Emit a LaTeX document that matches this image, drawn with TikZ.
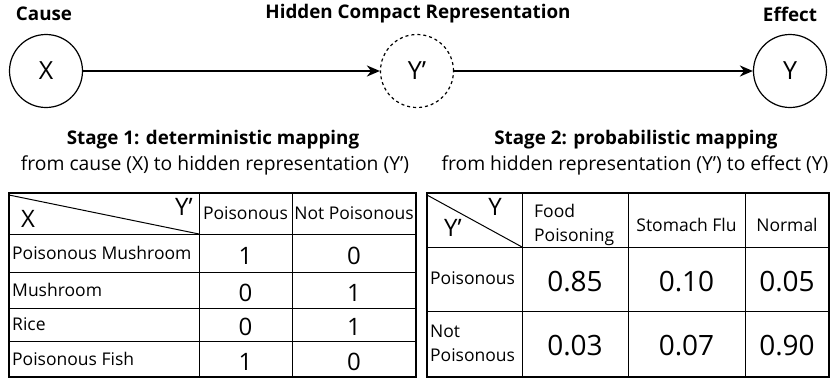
\documentclass[tikz,border=0pt]{standalone}
\usepackage{fontspec}
\setmainfont{Open Sans}
\usetikzlibrary{arrows.meta}

\begin{document}
\begin{tikzpicture}[x=1pt, y=-1pt,
    var/.style={circle, draw, line width=1.2pt, minimum size=73pt, inner sep=0pt,
      font=\fontsize{25}{27}\selectfont},
    hidden/.style={var, dashed},
    link/.style={-{Stealth[length=13pt, width=11pt]}, line width=2.6pt},
    title/.style={font=\fontsize{18.8}{21}\selectfont\bfseries},
    sub/.style={font=\fontsize{19.3}{22}\selectfont},
    cell/.style={font=\fontsize{17.5}{24}\selectfont, inner sep=0pt},
    num/.style={font=\fontsize{24}{28}\selectfont, inner sep=0pt},
    bignum/.style={font=\fontsize{28}{32}\selectfont, inner sep=0pt},
    frame/.style={line width=1.6pt},
    grid/.style={line width=1pt}]
  \useasboundingbox (0,0) rectangle (831,381);

  % variables
  \node[var] (x) at (46,71) {X};
  \node[hidden] (yp) at (417,71) {Y'};
  \node[var] (y) at (790,71) {Y};
  \draw[link] (x) -- (yp);
  \draw[link] (yp) -- (y);

  \node[title] (cause) at (44,14) {Cause};
  \node[title] (hcr) at (418,14) {Hidden Compact Representation};
  \node[title] (effect) at (790,14) {Effect};

  % stage captions
  \node[title] (s1) at (213,140) {Stage 1: deterministic mapping};
  \node[sub] (s1b) at (215,165) {from cause (X) to hidden representation (Y')};
  \node[title] (s2) at (636,140) {Stage 2: probabilistic mapping};
  \node[sub] (s2b) at (635,165) {from hidden representation (Y') to effect (Y)};

  % table 1
  \draw[frame] (9,193) rectangle (416,377);
  \foreach \yy in {234,272,308,341}
    \draw[grid] (9,\yy) -- (416,\yy);
  \draw[grid] (199,193) -- (199,377);
  \draw[grid] (292,193) -- (292,378);
  \draw[grid] (9,195) -- (199,234);
  \node[num] (t1y) at (184,207) {Y'};
  \node[num] (t1x) at (28,219) {X};
  \node[cell] (t1c1) at (245.5,213) {Poisonous};
  \node[cell] (t1c2) at (354,213) {Not Poisonous};
  \foreach \lab/\a/\b/\yy [count=\i] in {Poisonous Mushroom/1/0/253,
      Mushroom/0/1/290, Rice/0/1/324, Poisonous Fish/1/0/359}{
    \node[cell, anchor=west] (t1r\i) at (12,\yy) {\lab};
    \node[num] (t1a\i) at (245.5,\yy+3) {\a};
    \node[num] (t1b\i) at (354,\yy+3) {\b};
  }

  % table 2
  \draw[frame] (427,193) rectangle (829,377);
  \foreach \yy in {247,311}
    \draw[grid] (427,\yy) -- (829,\yy);
  \foreach \xx in {522,628,745}
    \draw[grid] (\xx,193) -- (\xx,377);
  \draw[grid] (427,195) -- (522,247);
  \node[num] (t2y) at (495,207) {Y};
  \node[num] (t2yp) at (453,228) {Y'};
  \node[cell, anchor=west, align=left] (t2c1) at (534,225) {Food\\Poisoning};
  \node[cell] (t2c2) at (686.5,225) {Stomach Flu};
  \node[cell] (t2c3) at (787,225) {Normal};
  \node[cell, anchor=west] (t2r1) at (430,278) {Poisonous};
  \node[cell, anchor=west, align=left] (t2r2) at (430,343) {Not\\Poisonous};
  \foreach \a/\b/\c/\yy [count=\i] in {0.85/0.10/0.05/282, 0.03/0.07/0.90/346}{
    \node[bignum] (t2a\i) at (575,\yy) {\a};
    \node[bignum] (t2b\i) at (686.5,\yy) {\b};
    \node[bignum] (t2c\i) at (787,\yy) {\c};
  }
\end{tikzpicture}
\end{document}
